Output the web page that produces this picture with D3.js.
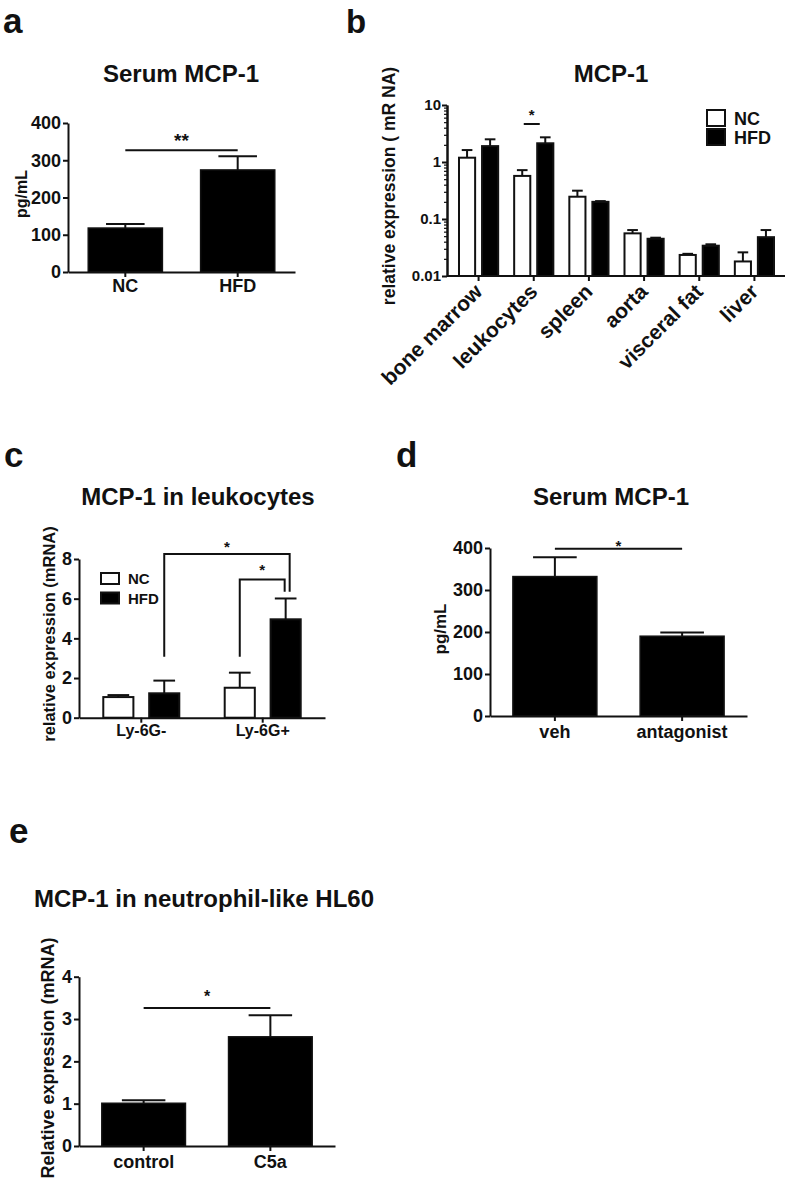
<!DOCTYPE html>
<head>
  <meta charset="utf-8">
  <style>
  body { margin: 0; background: #fff; }
  svg text { font-family: "Liberation Sans", Arial, sans-serif; font-weight: bold; fill: #111; }
  </style>
  <script src="https://cdn.jsdelivr.net/npm/d3@7"></script>
</head>

<body>
  <svg width="787" height="1179"></svg>

  <script>

  // a: serum MCP-1, NC vs HFD (pg/mL), bar = mean, top = mean + SEM
  var aGroups = ["NC", "HFD"];
  var aMean = [118, 274];
  var aTop = [129, 311];

  // b: MCP-1 mRNA by tissue (log scale)
  var bTissues = ["bone marrow", "leukocytes", "spleen", "aorta", "visceral fat", "liver"];
  var bNC = [1.19, 0.57, 0.246, 0.056, 0.0234, 0.018];
  var bNCTop = [1.62, 0.72, 0.314, 0.064, 0.0245, 0.026];
  var bHFD = [1.9, 2.13, 0.2, 0.045, 0.034, 0.048];
  var bHFDTop = [2.5, 2.71, 0.206, 0.047, 0.036, 0.064];
  var bTicks = [0.01, 0.1, 1, 10];

  // c: MCP-1 in leukocytes
  var cGroups = ["Ly-6G-", "Ly-6G+"];
  var cNC = [1.04, 1.51];
  var cNCTop = [1.14, 2.27];
  var cHFD = [1.23, 4.96];
  var cHFDTop = [1.87, 6.01];
  var cTicks = [0, 2, 4, 6, 8];

  // d: serum MCP-1, veh vs antagonist
  var dGroups = ["veh", "antagonist"];
  var dMean = [332, 190];
  var dTop = [378, 199];

  // e: MCP-1 in neutrophil-like HL60
  var eGroups = ["control", "C5a"];
  var eMean = [1.01, 2.58];
  var eTop = [1.08, 3.09];

  var series = ["NC", "HFD"];

  var svg = d3.select("svg");

  function styleAxis(g, fs) {
    g.attr("font-family", null).attr("font-size", fs);
    g.selectAll("path, line").attr("stroke", "#111").attr("stroke-width", 2);
    g.selectAll("text").attr("fill", "#111");
  }

  function label(txt, x, y, fs, anchor) {
    return svg.append("text").attr("x", x).attr("y", y)
      .attr("font-size", fs).attr("text-anchor", anchor || "middle").text(txt);
  }

  function yLabel(txt, x, y, fs) {
    svg.append("text").attr("transform", "translate(" + x + "," + y + ") rotate(-90)")
      .attr("font-size", fs).attr("text-anchor", "middle").text(txt);
  }

  function errBar(g, cx, y1, y2, half) {
    g.append("line").attr("x1", cx).attr("x2", cx).attr("y1", y1).attr("y2", y2)
      .attr("stroke", "#111").attr("stroke-width", 2);
    g.append("line").attr("x1", cx - half).attr("x2", cx + half).attr("y1", y2).attr("y2", y2)
      .attr("stroke", "#111").attr("stroke-width", 2);
  }

  // simple two-bar panels (a, d, e)
  function barPanel(o) {
    var g = svg.append("g");
    var x = d3.scaleBand().domain(o.cats).range([o.x0, o.x1]).paddingInner(0.34).paddingOuter(0.18);
    var y = d3.scaleLinear().domain([0, o.max]).range([o.y0, o.y1]);

    o.cats.forEach(function(c, i) {
      errBar(g, x(c) + x.bandwidth() / 2, y(o.mean[i]), y(o.top[i]), x.bandwidth() * 0.26);
    });

    g.selectAll("rect").data(o.cats).enter().append("rect")
      .attr("x", function(d) { return x(d); })
      .attr("width", x.bandwidth())
      .attr("y", function(d, i) { return y(o.mean[i]); })
      .attr("height", function(d, i) { return y(0) - y(o.mean[i]); })
      .attr("fill", "#000").attr("stroke", "#111").attr("stroke-width", 1.5);

    var ya = g.append("g").attr("transform", "translate(" + o.x0 + ",0)")
      .call(d3.axisLeft(y).tickValues(o.ticks).tickSize(5).tickPadding(2).tickSizeOuter(0)
        .tickFormat(d3.format("d")));
    styleAxis(ya, 18);

    var xa = g.append("g").attr("transform", "translate(0," + o.y0 + ")")
      .call(d3.axisBottom(x).tickSize(5).tickPadding(o.xpad).tickSizeOuter(0));
    styleAxis(xa, 18);

    // significance line
    var sy = y(o.sig);
    g.append("line")
      .attr("x1", x(o.cats[0]) + x.bandwidth() / 2).attr("x2", x(o.cats[1]) + x.bandwidth() / 2)
      .attr("y1", sy).attr("y2", sy).attr("stroke", "#111").attr("stroke-width", 2);
    g.append("text")
      .attr("x", (x(o.cats[0]) + x(o.cats[1]) + x.bandwidth()) / 2)
      .attr("y", sy - o.starOff).attr("font-size", o.starSize).attr("text-anchor", "middle")
      .text(o.star);
  }

  // ---------- a ----------
  label("a", 3, 33, 35, "start");
  label("Serum MCP-1", 181, 82, 24);
  yLabel("pg/mL", 27, 194, 16);
  barPanel({ cats: aGroups, mean: aMean, top: aTop, max: 400, ticks: [0, 100, 200, 300, 400],
    x0: 68, x1: 295, y0: 272, y1: 123, xpad: 2, sig: 327, star: "**", starOff: 3, starSize: 19 });

  // ---------- d ----------
  label("d", 396, 467, 35, "start");
  label("Serum MCP-1", 611, 505, 24);
  yLabel("pg/mL", 446, 629, 17);
  barPanel({ cats: dGroups, mean: dMean, top: dTop, max: 400, ticks: [0, 100, 200, 300, 400],
    x0: 490, x1: 747, y0: 716, y1: 548, xpad: 4, sig: 398, star: "*", starOff: -2, starSize: 15 });

  // ---------- e ----------
  label("e", 9, 843, 35, "start");
  label("MCP-1 in neutrophil-like HL60", 204, 907, 24);
  yLabel("Relative expression (mRNA)", 54, 1058, 18);
  barPanel({ cats: eGroups, mean: eMean, top: eTop, max: 4, ticks: [0, 1, 2, 3, 4],
    x0: 79, x1: 335, y0: 1146, y1: 976.7, xpad: 4, sig: 3.26, star: "*", starOff: 6, starSize: 16 });

  // ---------- b ----------
  label("b", 346, 33, 33, "start");
  label("MCP-1", 611, 82, 24);
  yLabel("relative expression ( mR NA)", 395, 186, 17.5);

  var bg = svg.append("g");
  var bx0 = d3.scaleBand().domain(bTissues).range([451, 782]).paddingInner(0.29).paddingOuter(0.145);
  var bx1 = d3.scaleBand().domain(series).range([0, bx0.bandwidth()]).paddingInner(0.3);
  var by = d3.scaleLog().domain([0.01, 10]).range([276, 105]);

  var bRows = bTissues.map(function(t, i) {
    return [
      { t: t, s: "NC", v: bNC[i], top: bNCTop[i] },
      { t: t, s: "HFD", v: bHFD[i], top: bHFDTop[i] }
    ];
  });
  bRows.forEach(function(row) {
    row.forEach(function(d) {
      var cx = bx0(d.t) + bx1(d.s) + bx1.bandwidth() / 2;
      errBar(bg, cx, by(d.v), by(d.top), bx1.bandwidth() * 0.33);
    });
  });
  bg.selectAll("g.grp").data(bRows).enter().append("g")
    .attr("transform", function(row) { return "translate(" + bx0(row[0].t) + ",0)"; })
    .selectAll("rect").data(function(row) { return row; }).enter().append("rect")
    .attr("x", function(d) { return bx1(d.s); })
    .attr("width", bx1.bandwidth())
    .attr("y", function(d) { return by(d.v); })
    .attr("height", function(d) { return by(0.01) - by(d.v); })
    .attr("fill", function(d) { return d.s === "NC" ? "#fff" : "#000"; })
    .attr("stroke", "#111").attr("stroke-width", 2);

  var bMinor = by.ticks().filter(function(v) {
    var l = Math.log10(v);
    return Math.abs(l - Math.round(l)) > 1e-6;
  });
  var bym = bg.append("g").attr("transform", "translate(447,0)")
    .call(d3.axisLeft(by).tickValues(bMinor).tickSize(3).tickFormat("").tickSizeOuter(0));
  styleAxis(bym, 15);
  bym.selectAll("line").attr("stroke-width", 1.2);
  var bya = bg.append("g").attr("transform", "translate(447,0)")
    .call(d3.axisLeft(by).tickValues(bTicks).tickSize(5).tickPadding(1).tickSizeOuter(0)
      .tickFormat(function(d) { return String(d); }));
  styleAxis(bya, 15);

  var bxa = bg.append("g").attr("transform", "translate(0,276)")
    .call(d3.axisBottom(bx0).tickSize(5).tickSizeOuter(0));
  styleAxis(bxa, 21);
  bxa.select(".domain").attr("d", "M447,0H785");
  bxa.selectAll(".tick text")
    .attr("y", 0).attr("dy", 0)
    .attr("text-anchor", "end")
    .attr("transform", "translate(5,17) rotate(-45)");

  // legend b
  series.forEach(function(s, i) {
    bg.append("rect").attr("x", 707).attr("y", 110 + i * 19).attr("width", 18).attr("height", 16)
      .attr("fill", s === "NC" ? "#fff" : "#000").attr("stroke", "#111").attr("stroke-width", 2);
    bg.append("text").attr("x", 734).attr("y", 125 + i * 19).attr("font-size", 18).text(s);
  });

  // significance in leukocytes
  var lc = bx0("leukocytes") + bx0.bandwidth() / 2 - 2;
  bg.append("line").attr("x1", lc - 8).attr("x2", lc + 8).attr("y1", 124).attr("y2", 124)
    .attr("stroke", "#111").attr("stroke-width", 2);
  bg.append("text").attr("x", lc).attr("y", 120).attr("font-size", 15)
    .attr("text-anchor", "middle").text("*");

  // ---------- c ----------
  label("c", 4, 467, 35, "start");
  label("MCP-1 in leukocytes", 198, 505, 24);
  yLabel("relative expression (mRNA)", 55, 634, 16.5);

  var cg = svg.append("g");
  var cx0 = d3.scaleBand().domain(cGroups).range([79, 325]).paddingInner(0.374).paddingOuter(0.2);
  var cx1 = d3.scaleBand().domain(series).range([0, cx0.bandwidth()]).paddingInner(0.344);
  var cy = d3.scaleLinear().domain([0, 8]).range([717.7, 559]);

  var cRows = cGroups.map(function(t, i) {
    return [
      { t: t, s: "NC", v: cNC[i], top: cNCTop[i] },
      { t: t, s: "HFD", v: cHFD[i], top: cHFDTop[i] }
    ];
  });
  function cCenter(t, s) { return cx0(t) + cx1(s) + cx1.bandwidth() / 2; }
  cRows.forEach(function(row) {
    row.forEach(function(d) {
      errBar(cg, cCenter(d.t, d.s), cy(d.v), cy(d.top), cx1.bandwidth() * 0.36);
    });
  });
  cg.selectAll("g.grp").data(cRows).enter().append("g")
    .attr("transform", function(row) { return "translate(" + cx0(row[0].t) + ",0)"; })
    .selectAll("rect").data(function(row) { return row; }).enter().append("rect")
    .attr("x", function(d) { return cx1(d.s); })
    .attr("width", cx1.bandwidth())
    .attr("y", function(d) { return cy(d.v); })
    .attr("height", function(d) { return cy(0) - cy(d.v); })
    .attr("fill", function(d) { return d.s === "NC" ? "#fff" : "#000"; })
    .attr("stroke", "#111").attr("stroke-width", 2);

  var cya = cg.append("g").attr("transform", "translate(79,0)")
    .call(d3.axisLeft(cy).tickValues(cTicks).tickSize(5).tickPadding(2).tickSizeOuter(0));
  styleAxis(cya, 18);
  var cxa = cg.append("g").attr("transform", "translate(0,717.7)")
    .call(d3.axisBottom(cx0).tickSize(5).tickPadding(2).tickSizeOuter(0));
  styleAxis(cxa, 16);

  // brackets
  function bracket(xl, yl, xr, yr, yt, starOff) {
    cg.append("path")
      .attr("d", "M" + xl + "," + cy(yl) + "V" + cy(yt) + "H" + xr + "V" + cy(yr))
      .attr("fill", "none").attr("stroke", "#111").attr("stroke-width", 2);
    cg.append("text").attr("x", (xl + xr) / 2).attr("y", cy(yt) - starOff)
      .attr("font-size", 15).attr("text-anchor", "middle").text("*");
  }
  bracket(cCenter("Ly-6G-", "HFD"), 3.07, cCenter("Ly-6G+", "HFD") + 4, 6.35, 8.25, 2);
  bracket(cCenter("Ly-6G+", "NC"), 3.07, cCenter("Ly-6G+", "HFD") - 1, 6.35, 6.97, 4);

  // legend c
  series.forEach(function(s, i) {
    cg.append("rect").attr("x", 101).attr("y", 573 + i * 19.5).attr("width", 18).attr("height", 11)
      .attr("fill", s === "NC" ? "#fff" : "#000").attr("stroke", "#111").attr("stroke-width", 2);
    cg.append("text").attr("x", 128).attr("y", 584 + i * 19.5).attr("font-size", 15).text(s);
  });

  </script>
</body>
